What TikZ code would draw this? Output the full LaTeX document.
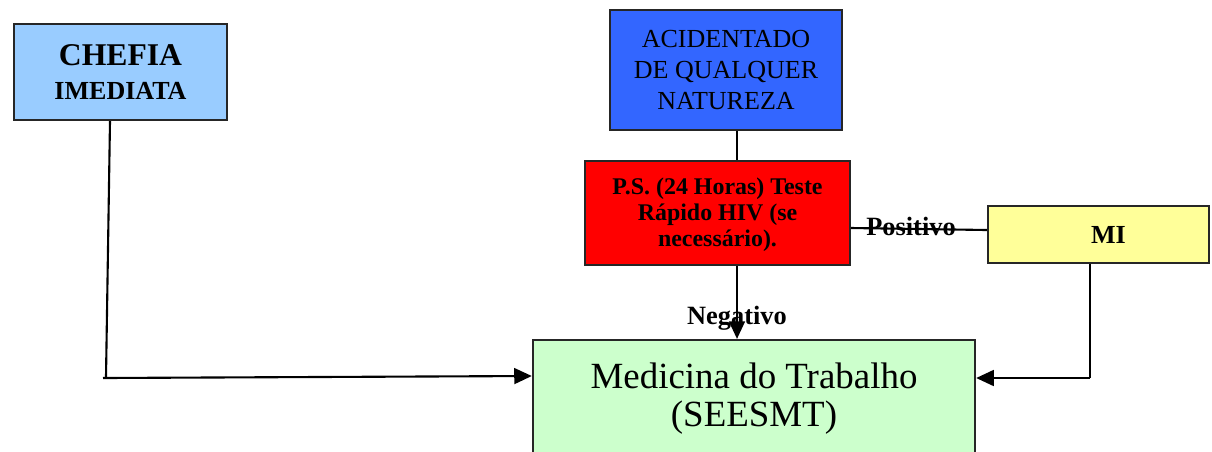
\documentclass[tikz,border=0pt]{standalone}
\usepackage{fontspec}
\setmainfont{Liberation Serif}
\usetikzlibrary{arrows.meta}
\definecolor{chefblue}{HTML}{99CCFF}
\definecolor{acblue}{HTML}{3366FF}
\definecolor{psred}{HTML}{FF0000}
\definecolor{miyellow}{HTML}{FFFF99}
\definecolor{medgreen}{HTML}{CCFFCC}
\tikzset{
  box/.style={draw=black!85, line width=0.6pt, inner sep=0pt, align=center},
  conn/.style={draw=black, line width=0.6pt},
  arr/.style={conn, -{Triangle[length=5pt,width=4.5pt]}},
  lbl/.style={font=\fontsize{7.5}{8}\selectfont\bfseries, inner sep=0pt}
}
\begin{document}
\begin{tikzpicture}[x=0.01cm,y=-0.01cm]
\useasboundingbox (0,0) rectangle (1212,451);
\node[box, fill=chefblue, minimum width=2.13cm, minimum height=0.96cm] (chef) at (120.5,72)
  {\fontsize{9}{10}\selectfont\bfseries CHEFIA\\[-2.2pt]\fontsize{7.4}{8.5}\selectfont\bfseries IMEDIATA};
\node[box, fill=acblue, minimum width=2.32cm, minimum height=1.2cm, font=\fontsize{7.4}{8.8}\selectfont] (acid) at (726,70)
  {ACIDENTADO\\DE QUALQUER\\NATUREZA};
\node[box, fill=psred, minimum width=2.65cm, minimum height=1.04cm] (ps) at (717.5,213) {};
\node[inner sep=0pt, align=center, font=\fontsize{6.8}{7.4}\selectfont\bfseries] (pstxt) at (717.5,215)
  {P.S. (24 Horas) Teste\\Rápido HIV (se\\necessário).};
\node[box, fill=miyellow, minimum width=2.21cm, minimum height=0.57cm, font=\fontsize{7.4}{8}\selectfont\bfseries] (mi) at (1098.5,234.5)
  {\hspace*{0.2cm}MI};
\node[box, fill=medgreen, minimum width=4.42cm, minimum height=1.3cm] (med) at (754,405) {};
\node[inner sep=0pt, align=center, font=\fontsize{10.5}{10.8}\selectfont] (medtxt) at (754,399)
  {Medicina do Trabalho\\(SEESMT)};
% connectors
\coordinate (c1) at (110,121);
\coordinate (c2) at (106,377);
\coordinate (c3) at (103,378);
\draw[conn] (c1) -- (c2);
\draw[arr] (c3) -- (med.west |- 0,376);
\draw[conn] (acid.south -| 737,0) -- (ps.north -| 737,0);
\draw[arr] (ps.south -| 737,0) -- (med.north -| 737,0);
\node[lbl] (neg) at (737,318) {Negativo};
\draw[conn] (ps.east |- 0,228) -- (mi.west |- 0,230);
\node[lbl] (pos) at (911,226) {Positivo};
\coordinate (m1) at (1090,378);
\draw[conn] (mi.south -| 1090,0) -- (m1);
\draw[arr] (m1) -- (med.east |- m1);
\end{tikzpicture}
\end{document}
